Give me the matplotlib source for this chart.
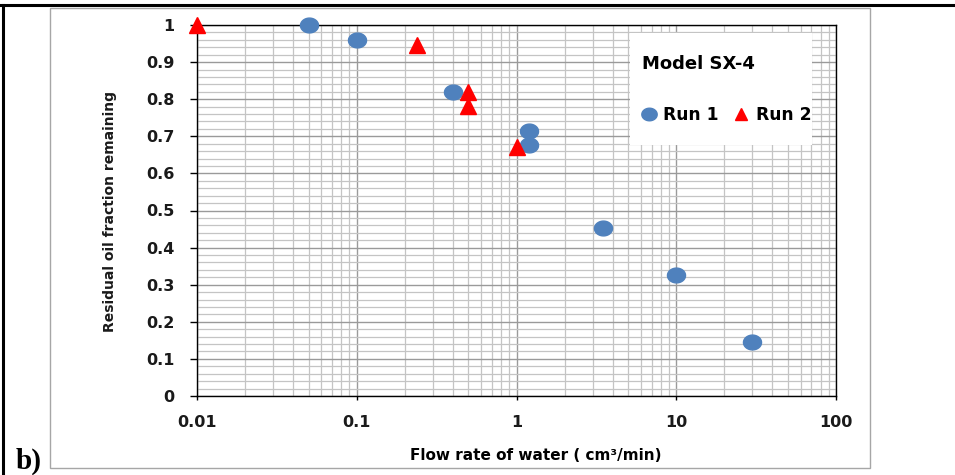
import matplotlib
matplotlib.use("Agg")
import matplotlib.pyplot as plt
import numpy as np
from matplotlib.path import Path
from matplotlib.ticker import LogLocator, MultipleLocator, FixedLocator, FixedFormatter, NullFormatter
from matplotlib.patches import Rectangle
from matplotlib.lines import Line2D

# ---- data ----
run1_x = [0.05, 0.1, 0.4, 1.2, 1.2, 3.5, 10, 30]
run1_y = [1.0, 0.96, 0.82, 0.715, 0.677, 0.452, 0.325, 0.145]
run2_x = [0.01, 0.24, 0.5, 0.5, 1.0]
run2_y = [1.0, 0.945, 0.82, 0.782, 0.671]
xticks = [0.01, 0.1, 1, 10, 100]
xtick_labels = ["0.01", "0.1", "1", "10", "100"]
yticks = [0, 0.1, 0.2, 0.3, 0.4, 0.5, 0.6, 0.7, 0.8, 0.9, 1]
ytick_labels = ["0", "0.1", "0.2", "0.3", "0.4", "0.5", "0.6", "0.7", "0.8", "0.9", "1"]
series_names = ["Run 1", "Run 2"]
legend_title = "Model SX-4"
xlabel = "Flow rate of water ( cm\u00b3/min)"
ylabel = "Residual oil fraction remaining"

BLUE = "#4F81BD"
RED = "#FF0000"
FONT = "DejaVu Sans"

# ellipse marker (wider than tall)
t = np.linspace(0, 2 * np.pi, 60)
ell = Path(np.column_stack([np.cos(t), 0.82 * np.sin(t)]), closed=True)

W, H = 955, 475
fig = plt.figure(figsize=(W / 100, H / 100), dpi=100)

def fx(px):
    return px / W

def fy(py):
    return 1 - py / H

# outer table border (black) and chart frame (gray)
fig.add_artist(Line2D([0, 1], [fy(5), fy(5)], color="black", lw=2.2, transform=fig.transFigure))
fig.add_artist(Line2D([fx(3), fx(3)], [0, fy(5)], color="black", lw=2.2, transform=fig.transFigure))
fig.add_artist(Rectangle((fx(50), fy(468)), fx(870) - fx(50), fy(8) - fy(468),
                         transform=fig.transFigure, fill=False, edgecolor="#A6A6A6", lw=1.0))

ax = fig.add_axes([fx(197), fy(396), fx(836) - fx(197), fy(25) - fy(396)])
ax.set_xscale("log")
ax.set_xlim(0.01, 100)
ax.set_ylim(0, 1)

ax.xaxis.set_major_locator(FixedLocator(xticks))
ax.xaxis.set_major_formatter(FixedFormatter(xtick_labels))
ax.xaxis.set_minor_locator(LogLocator(base=10, subs=np.arange(2, 10)))
ax.xaxis.set_minor_formatter(NullFormatter())
ax.yaxis.set_major_locator(FixedLocator(yticks))
ax.yaxis.set_major_formatter(FixedFormatter(ytick_labels))
ax.yaxis.set_minor_locator(MultipleLocator(0.02))

ax.grid(which="major", color="#9A9A9A", lw=1.0)
ax.grid(which="minor", color="#C4C4C4", lw=0.9)
ax.set_axisbelow(True)

for s in ax.spines.values():
    s.set_color("black")
    s.set_linewidth(1.0)

ax.tick_params(axis="y", which="major", direction="out", length=5, width=1, pad=11,
               labelsize=11.5, colors="black")
ax.tick_params(axis="x", which="major", direction="out", length=3, width=1, pad=11,
               labelsize=11.5, colors="black")
ax.tick_params(which="minor", length=0)
for lab in ax.get_xticklabels() + ax.get_yticklabels():
    lab.set_fontweight("bold")
    lab.set_family(FONT)
    lab.set_color("#1a1a1a")

# legend background box
ax.add_patch(Rectangle((0.678, 0.677), 0.284, 0.301, transform=ax.transAxes,
                       facecolor="white", edgecolor="none", zorder=2))

ax.plot(run1_x, run1_y, linestyle="none", marker=ell, markersize=13, color=BLUE,
        label=series_names[0], zorder=4, clip_on=False)
ax.plot(run2_x, run2_y, linestyle="none", marker="^", markersize=11, color=RED,
        label=series_names[1], zorder=5, clip_on=False)

leg = ax.legend(title=legend_title, ncol=2, loc="center", bbox_to_anchor=(0.829, 0.826),
                frameon=False, handlelength=0.8, handletextpad=0.45, columnspacing=0.9,
                labelspacing=1.9, markerscale=0.85, alignment="left",
                prop={"family": FONT, "weight": "bold", "size": 12.3})
leg.get_title().set_fontweight("bold")
leg.get_title().set_fontsize(13)
leg.get_title().set_family(FONT)
leg.set_zorder(6)

fig.text(fx(536), fy(455), xlabel, ha="center", va="center", fontsize=11,
         fontweight="bold", family=FONT)
fig.text(fx(110), fy(212), ylabel, ha="center", va="center", rotation=90, fontsize=10,
         fontweight="bold", family=FONT, color="#1a1a1a")
fig.text(fx(16), fy(461), "b)", ha="left", va="center", fontsize=21,
         fontweight="bold", family="Liberation Serif")

fig.savefig("out.png", dpi=100)
